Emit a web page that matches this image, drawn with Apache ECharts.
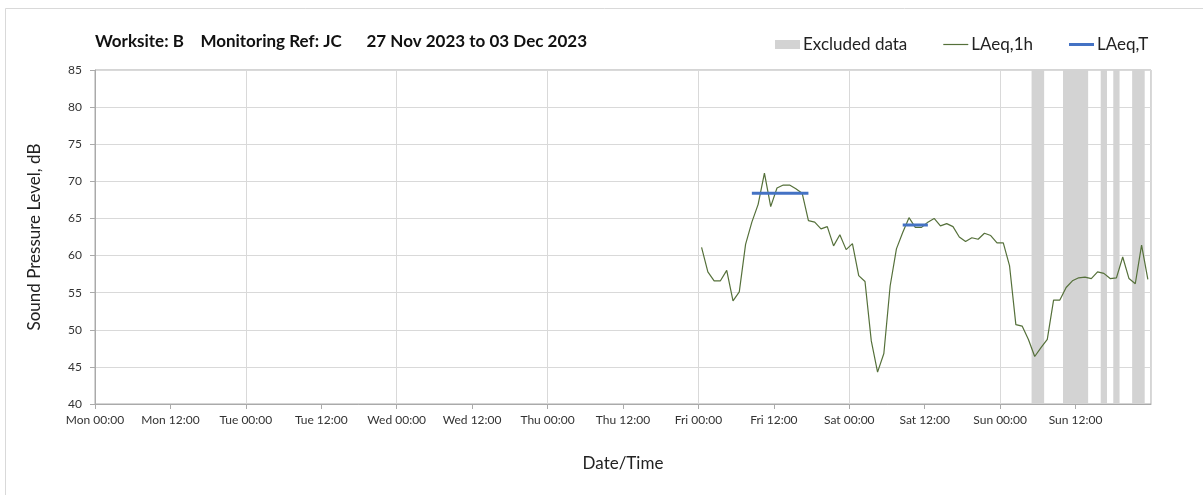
<!DOCTYPE html>
<html>
<head>
<meta charset="utf-8">
<script src="https://cdn.jsdelivr.net/npm/echarts@6/dist/echarts.min.js"></script>
<style>
html,body{margin:0;padding:0;background:#fff;}
#chart{width:1203px;height:495px;}
</style>
</head>
<body>
<div id="chart"></div>
<script>
// ---- data ----
const dayNames = ['Mon', 'Tue', 'Wed', 'Thu', 'Fri', 'Sat', 'Sun'];
const tickHours = ['00:00', '12:00'];
const dataStartHour = 96; // Fri 00:00, hours since Mon 00:00
// hourly LAeq,1h values from Fri 00:00 to Sun 23:00
const laeq1h = [
  61.1, 57.8, 56.6, 56.6, 58.0, 53.9, 55.1, 61.5, 64.5, 66.9, 71.1, 66.6,
  69.1, 69.5, 69.5, 69.0, 68.4, 64.7, 64.5, 63.6, 63.9, 61.3, 62.8, 60.8,
  61.6, 57.3, 56.5, 48.5, 44.3, 46.8, 55.9, 60.9, 63.1, 65.1, 63.8, 63.8,
  64.5, 65.0, 64.0, 64.3, 63.9, 62.5, 61.9, 62.4, 62.2, 63.0, 62.7, 61.7,
  61.7, 58.6, 50.7, 50.5, 48.7, 46.4, 47.6, 48.7, 54.0, 54.0, 55.7, 56.6,
  57.0, 57.1, 56.9, 57.8, 57.6, 56.9, 57.0, 59.8, 56.9, 56.2, 61.4, 56.8
];
// LAeq,T periods (hour index from Fri 00:00, first and last hour)
const laeqTStart = [8, 32];
const laeqTEnd = [17, 36];
const laeqTValue = [68.4, 64.1];
// excluded data periods, hours since Mon 00:00
const excludedStart = [149, 154, 160, 162, 165];
const excludedEnd = [151, 158, 161, 163, 167];

// ---- build ----
const FONT = 'Lato';
const lineData = laeq1h.map((v, i) => [dataStartHour + i + 0.5, v]);
const tSeries = laeqTStart.map((s, k) => ({
  name: 'LAeq,T',
  type: 'line',
  symbol: 'none',
  silent: true,
  z: 5,
  lineStyle: { color: '#4472C4', width: 3 },
  itemStyle: { color: '#4472C4' },
  data: [[dataStartHour + s + 0.5, laeqTValue[k]], [dataStartHour + laeqTEnd[k] + 0.5, laeqTValue[k]]]
}));
const markAreaData = excludedStart.map((s, k) => [{ xAxis: s }, { xAxis: excludedEnd[k] }]);

const chart = echarts.init(document.getElementById('chart'));
chart.setOption({
  animation: false,
  backgroundColor: '#ffffff',
  textStyle: { fontFamily: FONT },
  graphic: [{
    type: 'rect', silent: true, z: -10,
    shape: { x: 5.5, y: 8.5, width: 1400, height: 700 },
    style: { fill: 'none', stroke: '#d9d9d9', lineWidth: 1 }
  }],
  title: {
    text: 'Worksite: B    Monitoring Ref: JC      27 Nov 2023 to 03 Dec 2023',
    left: 95, top: 33, padding: 0,
    textStyle: { fontFamily: FONT, fontSize: 17, fontWeight: 'bold', color: '#111' }
  },
  legend: {
    left: 775, top: 36, padding: 0,
    itemWidth: 25, itemHeight: 9, itemGap: 36,
    textStyle: { fontFamily: FONT, fontSize: 17, color: '#222', padding: [0, 0, 0, -2] },
    data: [
      { name: 'Excluded data', icon: 'rect' },
      { name: 'LAeq,1h', icon: 'path://M0,0 L25,0 L25,1.2 L0,1.2 Z' },
      { name: 'LAeq,T', icon: 'path://M0,0 L25,0 L25,3 L0,3 Z' }
    ]
  },
  grid: {
    left: 95, right: 52, top: 70, bottom: 91,
    show: true, borderColor: '#aaaaaa', borderWidth: 1
  },
  xAxis: [{
    type: 'value', min: 0, max: 168, interval: 12,
    name: 'Date/Time', nameLocation: 'middle', nameGap: 51,
    nameTextStyle: { fontFamily: FONT, fontSize: 17, color: '#222' },
    axisLine: { lineStyle: { color: '#aaaaaa' } },
    axisTick: { show: true, length: 5, lineStyle: { color: '#aaaaaa' } },
    splitLine: { show: false },
    axisLabel: {
      fontFamily: FONT, fontSize: 12, color: '#333', margin: 10,
      showMaxLabel: false,
      formatter: v => {
        const d = Math.floor(v / 24);
        if (d >= dayNames.length) return '';
        return dayNames[d] + ' ' + tickHours[(v % 24) / 12];
      }
    }
  }, {
    type: 'value', min: 0, max: 168, interval: 24,
    position: 'bottom',
    axisLine: { show: false }, axisTick: { show: false }, axisLabel: { show: false },
    splitLine: { show: true, lineStyle: { color: '#d9d9d9' } }
  }],
  yAxis: {
    type: 'value', min: 40, max: 85, interval: 5,
    name: 'Sound Pressure Level, dB', nameLocation: 'middle', nameGap: 52,
    nameTextStyle: { fontFamily: FONT, fontSize: 17, color: '#222' },
    axisLine: { show: true, lineStyle: { color: '#aaaaaa' } },
    axisTick: { show: true, length: 5, lineStyle: { color: '#aaaaaa' } },
    axisLabel: { fontFamily: FONT, fontSize: 12, color: '#333', margin: 13 },
    splitLine: { show: true, lineStyle: { color: '#d9d9d9' } }
  },
  series: [{
    name: 'Excluded data',
    type: 'line',
    data: [],
    symbol: 'none',
    itemStyle: { color: '#d3d3d3' },
    lineStyle: { color: '#d3d3d3' },
    markArea: {
      silent: true,
      itemStyle: { color: '#d3d3d3', opacity: 1 },
      data: markAreaData
    },
    z: 1
  }, {
    name: 'LAeq,1h',
    type: 'line',
    data: lineData,
    symbol: 'none',
    z: 4,
    lineStyle: { color: '#55703a', width: 1.2 },
    itemStyle: { color: '#55703a' }
  }].concat(tSeries)
});
</script>
</body>
</html>
